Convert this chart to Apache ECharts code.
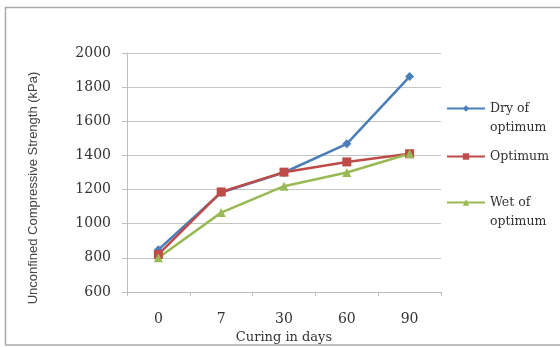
<!DOCTYPE html>
<html><head><meta charset="utf-8">
<script src="https://cdn.jsdelivr.net/npm/echarts@6/dist/echarts.min.js"></script>
<style>html,body{margin:0;padding:0;background:#fff}#c{width:560px;height:347px}</style>
</head><body><div id="c"></div>
<script>
var categories = ['0', '7', '30', '60', '90'];
var dryOfOptimum = [848, 1183, 1300, 1468, 1862];
var optimum = [820, 1186, 1302, 1362, 1410];
var wetOfOptimum = [800, 1065, 1220, 1300, 1410];
var seriesNames = ['Dry of\noptimum', 'Optimum', 'Wet of\noptimum'];
var yMin = 600, yMax = 2000, yStep = 200;

var font = 'DejaVu Serif';
var chart = echarts.init(document.getElementById('c'));
function legendAt(name, top) {
  return {
    data: [name], left: 441, top: top, orient: 'vertical', itemWidth: 38, itemHeight: 8, itemGap: 0,
    lineStyle: { width: 2 },
    formatter: function (n) { return n.indexOf('\n') >= 0 ? '\n' + n : n; },
    textStyle: { fontFamily: font, fontSize: 12.5, color: '#333', lineHeight: 19 },
    selectedMode: false
  };
}
chart.setOption({
  animation: false,
  graphic: [{ type: 'rect', shape: { x: 5.5, y: 7.5, width: 560, height: 337.5 }, style: { fill: 'none', stroke: '#aaaaaa', lineWidth: 1.5 } }],
  legend: [legendAt(seriesNames[0], 75), legendAt(seriesNames[1], 142), legendAt(seriesNames[2], 169)],
  grid: { left: 127, right: 119, top: 53, bottom: 55, containLabel: false, outerBoundsMode: 'none' },
  xAxis: {
    type: 'category', data: categories, boundaryGap: true,
    name: 'Curing in days', nameLocation: 'middle', nameGap: 36,
    nameTextStyle: { fontFamily: font, fontSize: 13, color: '#333' },
    axisLine: { lineStyle: { color: '#bdbdbd', width: 1 } },
    axisTick: { show: true, length: 4, lineStyle: { color: '#bdbdbd' } },
    axisLabel: { fontFamily: font, fontSize: 14, color: '#333', margin: 20 }
  },
  yAxis: {
    type: 'value', min: yMin, max: yMax, interval: yStep,
    name: 'Unconfined Compressive Strength (kPa)', nameLocation: 'middle', nameGap: 87,
    nameTextStyle: { fontFamily: 'Liberation Sans', fontSize: 13, color: '#444', padding: [0, 31, 0, 0] },
    axisLine: { show: true, lineStyle: { color: '#bdbdbd', width: 1 } },
    axisTick: { show: true, length: 5, lineStyle: { color: '#bdbdbd' } },
    axisLabel: { fontFamily: font, fontSize: 14, color: '#333', margin: 16, formatter: function (v) { return String(v); } },
    splitLine: { lineStyle: { color: '#c4c4c4', width: 1 } }
  },
  series: [
    { name: seriesNames[0], type: 'line', data: dryOfOptimum, symbol: 'diamond', symbolSize: 9,
      lineStyle: { color: '#4a7ebb', width: 2.5 }, itemStyle: { color: '#4a7ebb' } },
    { name: seriesNames[1], type: 'line', data: optimum, symbol: 'rect', symbolSize: 9,
      lineStyle: { color: '#be4b48', width: 2.5 }, itemStyle: { color: '#be4b48' } },
    { name: seriesNames[2], type: 'line', data: wetOfOptimum, symbol: 'triangle', symbolSize: 9,
      lineStyle: { color: '#98b954', width: 2.5 }, itemStyle: { color: '#98b954' } }
  ]
});
</script></body></html>
